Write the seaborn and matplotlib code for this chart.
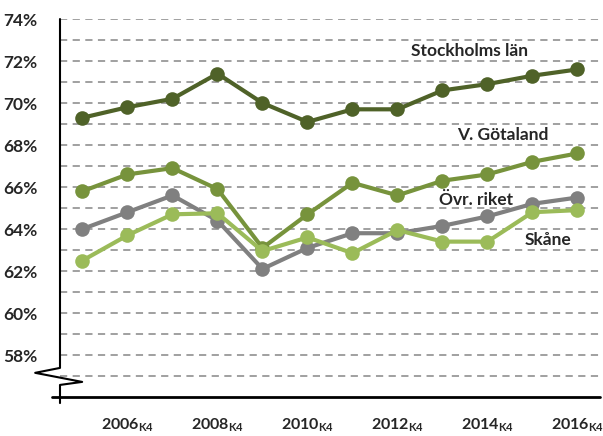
import numpy as np
import pandas as pd
import matplotlib
matplotlib.use("Agg")
import matplotlib.pyplot as plt
import seaborn as sns

years = [2005, 2006, 2007, 2008, 2009, 2010, 2011, 2012, 2013, 2014, 2015, 2016]
stockholm = [69.3, 69.8, 70.2, 71.4, 70.0, 69.1, 69.7, 69.7, 70.6, 70.9, 71.3, 71.6]
vgotaland = [65.8, 66.6, 66.9, 65.9, 63.1, 64.7, 66.2, 65.6, 66.3, 66.6, 67.2, 67.6]
ovr_riket = [64.0, 64.8, 65.6, 64.4, 62.1, 63.1, 63.8, 63.8, 64.15, 64.6, 65.2, 65.5]
skane = [62.5, 63.7, 64.7, 64.75, 62.95, 63.6, 62.85, 63.95, 63.4, 63.4, 64.8, 64.9]

series_names = ["Stockholms län", "V. Götaland", "Övr. riket", "Skåne"]
colors = ["#4F6228", "#77933C", "#808080", "#9BBB59"]
xtick_years = [2006, 2008, 2010, 2012, 2014, 2016]
ytick_vals = [58, 60, 62, 64, 66, 68, 70, 72, 74]

df = pd.DataFrame({
    "year": years * 4,
    "value": stockholm + vgotaland + ovr_riket + skane,
    "series": sum([[n] * len(years) for n in series_names], []),
})

sns.set_style("white")
plt.rcParams["font.family"] = ["Lato", "DejaVu Sans"]
plt.rcParams["mathtext.fontset"] = "custom"
plt.rcParams["mathtext.bf"] = "Lato:bold"
plt.rcParams["mathtext.rm"] = "Lato"

fig = plt.figure(figsize=(6.03, 4.36), dpi=100)
ax = fig.add_axes([0.0995, 0.0894, 0.8955, 0.8670])

# dashed grid every 1%
for g in range(57, 75):
    ax.axhline(g, color="#999999", lw=1.3, ls=(0, (4, 3)), zorder=0)

sns.lineplot(data=df, x="year", y="value", hue="series", hue_order=series_names,
             palette=dict(zip(series_names, colors)), marker="o", markersize=10.5,
             markeredgewidth=0, linewidth=3, legend=False, ax=ax)
for line in ax.lines[-4:]:
    line.set_zorder(3)

ax.set_xlim(2004.5, 2016.5)
ax.set_ylim(56, 74)
ax.set_yticks(ytick_vals)
ax.set_yticklabels([f"{v}%" for v in ytick_vals], fontsize=12.5, fontweight="bold")
ax.set_xticks(xtick_years)
ax.set_xticklabels([rf"{y}$_{{\mathbf{{K4}}}}$" for y in xtick_years],
                   fontsize=11.5, fontweight="bold")
ax.tick_params(axis="x", length=0, pad=14)
ax.tick_params(axis="y", length=0, pad=16)
ax.set_xlabel("")
ax.set_ylabel("")

for s in ["top", "right", "left", "bottom"]:
    ax.spines[s].set_visible(False)

# axes with break symbol
tr = ax.transAxes
ax.plot([-0.015, 1.0], [0, 0], color="black", lw=2, transform=tr, clip_on=False)
ax.plot([0, 0, -0.046, 0.041, 0, 0], [1.0, 0.077, 0.064, 0.040, 0.032, -0.016],
        color="black", lw=1.5, transform=tr, clip_on=False, zorder=5)

# series labels
lab = dict(fontsize=12.5, fontweight="bold", ha="center", va="center")
ax.text(2013.6, 72.5, "Stockholms län", **lab)
ax.text(2014.35, 68.5, "V. Götaland", **lab)
ax.text(2013.75, 65.4, "Övr. riket", **lab)
ax.text(2015.35, 63.5, "Skåne", **lab)

fig.savefig("out.png", dpi=100)
